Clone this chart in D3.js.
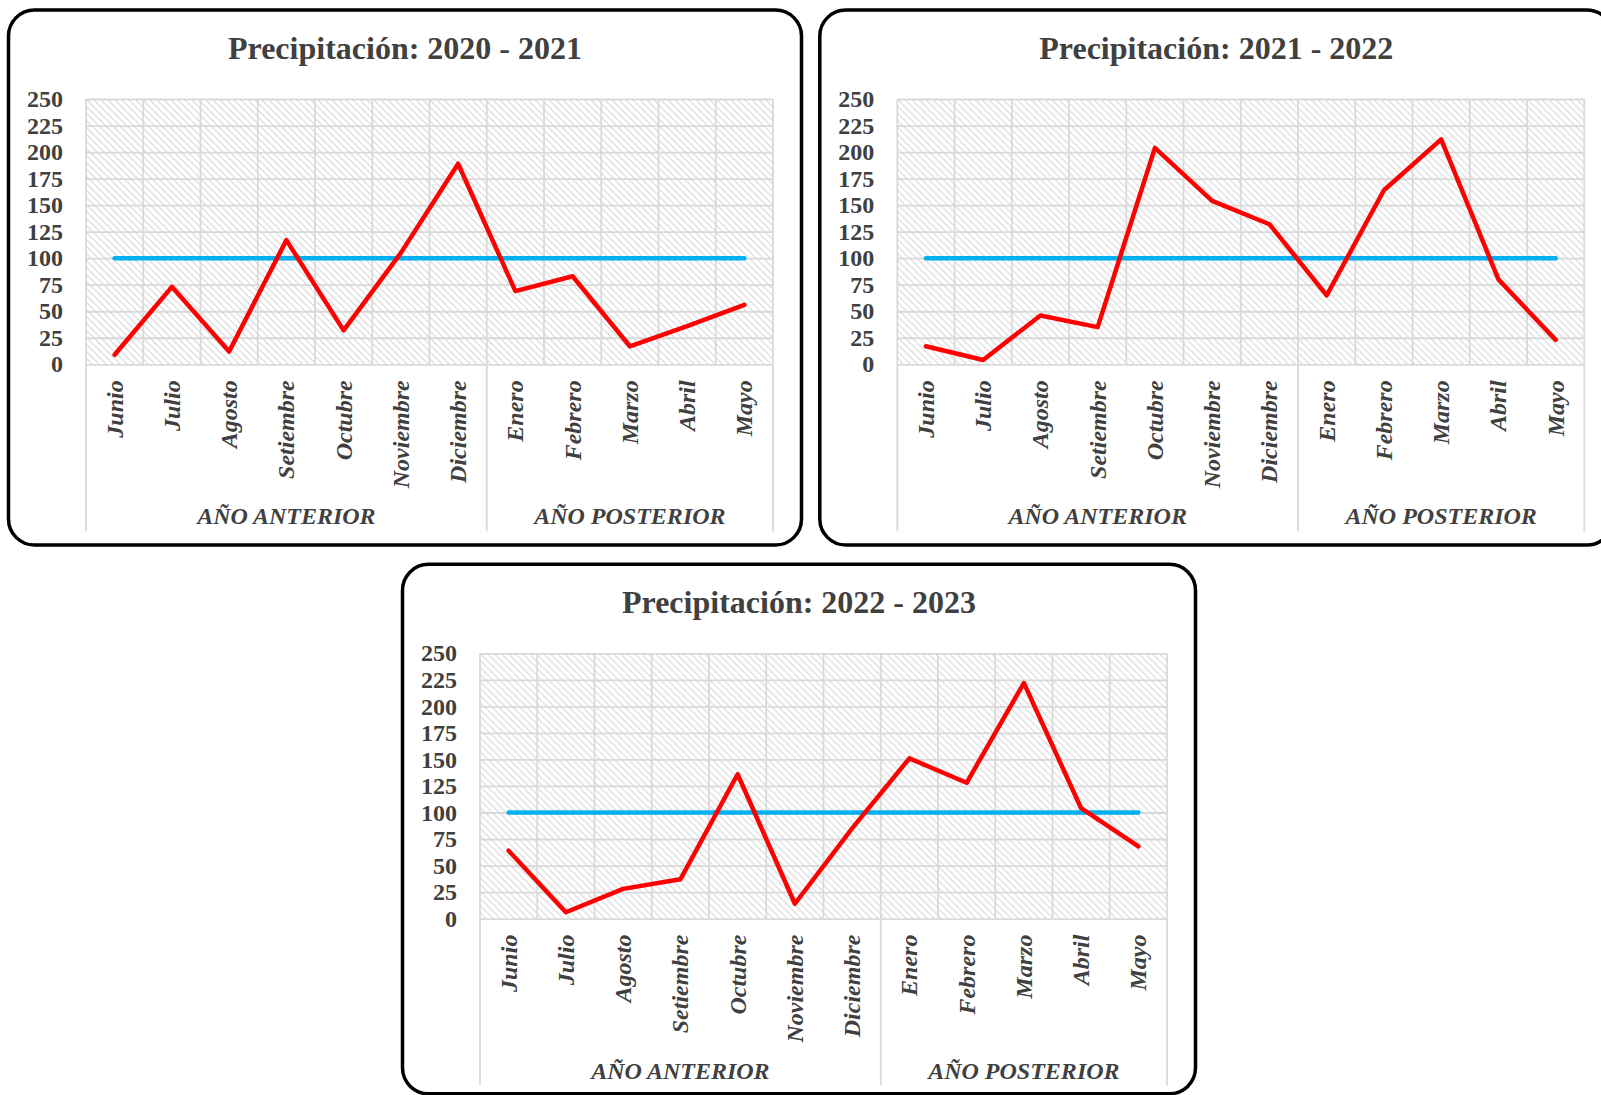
<!DOCTYPE html>
<html>
<head>
<meta charset="utf-8">
<script src="https://cdn.jsdelivr.net/npm/d3@7"></script>
<style>
  body { margin: 0; background: #fff; }
  text { font-family: "Liberation Serif", "Times New Roman", serif; fill: #404040; }
</style>
</head>
<body>
<script>
// Datos de las tres campañas
var meses = ["Junio", "Julio", "Agosto", "Setiembre", "Octubre", "Noviembre", "Diciembre",
             "Enero", "Febrero", "Marzo", "Abril", "Mayo"];
var grupos = ["AÑO ANTERIOR", "AÑO POSTERIOR"];
var mesesPorGrupo = [7, 5];
var yTicks = [0, 25, 50, 75, 100, 125, 150, 175, 200, 225, 250];
var umbral = 100;

var titulos = ["Precipitación: 2020 - 2021", "Precipitación: 2021 - 2022", "Precipitación: 2022 - 2023"];
var lluvia2020 = [9, 73, 12, 117, 32, 105, 189, 69, 83, 17, 36, 56];
var lluvia2021 = [17, 4, 46, 35, 204, 154, 132, 65, 164, 212, 80, 23];
var lluvia2022 = [64, 6, 28, 37, 136, 14, 85, 151, 128, 222, 104, 68];

// Tamaño general
var W = 1601, H = 1095;
var plotW = 687, plotH = 265.3;

var svg = d3.select("body").append("svg")
    .attr("width", W)
    .attr("height", H);

svg.append("rect").attr("width", W).attr("height", H).attr("fill", "#fff");

// Trama diagonal del área de trazado
var defs = svg.append("defs");
var pat = defs.append("pattern")
    .attr("id", "trama")
    .attr("patternUnits", "userSpaceOnUse")
    .attr("width", 7)
    .attr("height", 7);
pat.append("rect").attr("width", 7).attr("height", 7).attr("fill", "#fff");
pat.append("path")
    .attr("d", "M0,0 L7,7 M-1,6 L1,8 M6,-1 L8,1")
    .attr("stroke", "#d9d9d9")
    .attr("stroke-width", 1.2);

var x = d3.scaleBand().domain(meses).range([0, plotW]).padding(0);
var y = d3.scaleLinear().domain([0, 250]).range([plotH, 0]);

function dibujar(box, titulo, valores) {
  var g = svg.append("g").attr("transform", "translate(" + box.x + "," + box.y + ")");

  // marco redondeado
  g.append("rect")
      .attr("x", 0).attr("y", 0)
      .attr("width", box.w).attr("height", box.h)
      .attr("rx", 26).attr("ry", 26)
      .attr("fill", "none")
      .attr("stroke", "#000")
      .attr("stroke-width", 3.5);

  g.append("text")
      .attr("x", box.w / 2)
      .attr("y", 49)
      .attr("text-anchor", "middle")
      .style("font-size", "32px")
      .style("font-weight", "bold")
      .text(titulo);

  var p = g.append("g").attr("transform", "translate(77.5,89)");

  p.append("rect")
      .attr("width", plotW).attr("height", plotH)
      .attr("fill", "url(#trama)");

  // rejilla horizontal
  p.append("g")
      .call(d3.axisLeft(y).tickValues(yTicks).tickSize(-plotW).tickFormat(""))
      .call(function(s) {
        s.select(".domain").remove();
        s.selectAll("line").attr("stroke", "#d9d9d9").attr("stroke-width", 1.8);
      });

  // rejilla vertical
  var bordes = meses.map(function(m) { return x(m); }).concat([plotW]);
  p.selectAll(".vgrid")
    .data(bordes)
    .enter().append("line")
      .attr("x1", function(d) { return d; })
      .attr("x2", function(d) { return d; })
      .attr("y1", 0)
      .attr("y2", plotH)
      .attr("stroke", "#d9d9d9")
      .attr("stroke-width", 1.8);

  // separadores de grupo bajo el eje
  var cortes = [0, x(meses[mesesPorGrupo[0]]), plotW];
  p.selectAll(".sep")
    .data(cortes)
    .enter().append("line")
      .attr("x1", function(d) { return d; })
      .attr("x2", function(d) { return d; })
      .attr("y1", plotH)
      .attr("y2", plotH + 167)
      .attr("stroke", "#d9d9d9")
      .attr("stroke-width", 1.8);

  // eje Y
  p.append("g")
      .call(d3.axisLeft(y).tickValues(yTicks).tickSize(0).tickPadding(23))
      .call(function(s) {
        s.select(".domain").remove();
        s.selectAll("text")
          .style("font-size", "24px")
          .style("font-weight", "bold")
          .style("font-family", "'Liberation Serif', serif")
          .attr("fill", "#404040");
      });

  // etiquetas de meses
  p.selectAll(".mes")
    .data(meses)
    .enter().append("text")
      .attr("transform", function(d) {
        return "translate(" + (x(d) + x.bandwidth() / 2) + "," + (plotH + 16) + ") rotate(-90)";
      })
      .attr("dy", "0.33em")
      .attr("text-anchor", "end")
      .style("font-size", "24px")
      .style("font-weight", "bold")
      .style("font-style", "italic")
      .text(function(d) { return d; });

  // etiquetas de grupo
  var inicio = 0;
  grupos.forEach(function(nombre, i) {
    var a = x(meses[inicio]);
    var fin = inicio + mesesPorGrupo[i];
    var b = fin < meses.length ? x(meses[fin]) : plotW;
    p.append("text")
        .attr("x", (a + b) / 2)
        .attr("y", plotH + 160)
        .attr("text-anchor", "middle")
        .style("font-size", "24px")
        .style("font-weight", "bold")
        .style("font-style", "italic")
        .text(nombre);
    inicio = fin;
  });

  // linea de referencia (100)
  p.append("line")
      .attr("x1", x(meses[0]) + x.bandwidth() / 2)
      .attr("x2", x(meses[meses.length - 1]) + x.bandwidth() / 2)
      .attr("y1", y(umbral))
      .attr("y2", y(umbral))
      .attr("stroke", "#00b0f0")
      .attr("stroke-width", 4.5)
      .attr("stroke-linecap", "round");

  // precipitacion
  var linea = d3.line()
      .x(function(d, i) { return x(meses[i]) + x.bandwidth() / 2; })
      .y(function(d) { return y(d); });

  p.append("path")
      .datum(valores)
      .attr("d", linea)
      .attr("fill", "none")
      .attr("stroke", "#ff0000")
      .attr("stroke-width", 4.5)
      .attr("stroke-linejoin", "round")
      .attr("stroke-linecap", "round");
}

dibujar({x: 8.5, y: 10, w: 793, h: 535}, titulos[0], lluvia2020);
dibujar({x: 819.8, y: 10, w: 793, h: 535}, titulos[1], lluvia2021);
dibujar({x: 402.5, y: 564.3, w: 793, h: 529.5}, titulos[2], lluvia2022);
</script>
</body>
</html>
